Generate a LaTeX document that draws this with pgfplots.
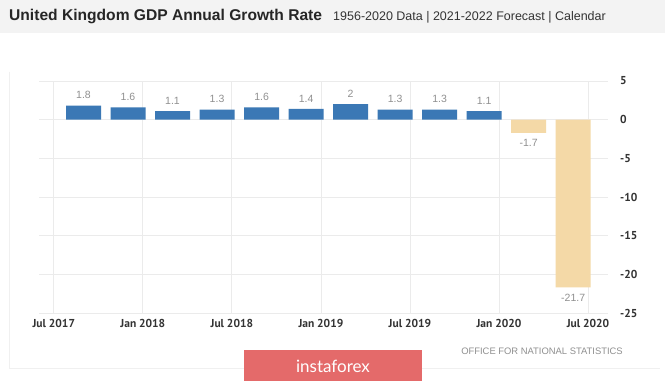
\documentclass[border=0pt]{standalone}
\usepackage{pgfplots}
\pgfplotsset{compat=1.18}
\usepackage{fontspec}
\setmainfont{Liberation Sans}
\newfontfamily\ptsans{PT Sans}
\newfontfamily\lato{Lato}
\definecolor{barblue}{HTML}{3B78B5}
\definecolor{bartan}{HTML}{F4D9A7}
\definecolor{gridc}{HTML}{EBEBEB}
\definecolor{cardc}{HTML}{F0F0F0}
\definecolor{hdr}{HTML}{F3F3F3}
\definecolor{lbl}{HTML}{909090}
\definecolor{tickc}{HTML}{333333}
\definecolor{insta}{HTML}{E46A6A}
\begin{document}
\begin{tikzpicture}[x=1pt,y=1pt]
\fill[white] (0,0) rectangle (665,381);
\fill[hdr] (0,348) rectangle (665,381);
\draw[cardc, line width=0.8pt] (9,309) -- (9,13) -- (660,13);
\node[anchor=base west, inner sep=0pt, font=\bfseries\fontsize{15.6}{18}\selectfont, text=black!85] at (9,360) {United Kingdom GDP Annual Growth Rate};
\node[anchor=base west, inner sep=0pt, font=\fontsize{12.5}{15}\selectfont, text=black!80] at (333,360) {1956-2020 Data | 2021-2022 Forecast | Calendar};
\begin{axis}[
  at={(39pt,68pt)}, anchor=south west, scale only axis,
  width=569pt, height=232pt,
  xmin=-1, xmax=37.35, ymin=-25, ymax=5,
  axis line style={draw=none},
  major tick length=0pt,
  xtick={0,6,12,18,24,30,36},
  xticklabels={Jul 2017,Jan 2018,Jul 2018,Jan 2019,Jul 2019,Jan 2020,Jul 2020},
  ytick={-25,-20,-15,-10,-5,0,5},
  yticklabels={-25,-20,-15,-10,-5,0,5},
  yticklabel pos=right,
  xmajorgrids, ymajorgrids,
  grid style={gridc, line width=0.8pt},
  x tick label style={font=\ptsans\bfseries\fontsize{11.5}{12}\selectfont, text=tickc, anchor=center, yshift=-10pt},
  y tick label style={font=\ptsans\bfseries\fontsize{11.5}{12}\selectfont, text=tickc, anchor=west, inner sep=0pt, xshift=12pt},
  nodes near coords align={vertical},
  every node near coord/.append style={font=\fontsize{10.5}{12}\selectfont, text=lbl, inner xsep=0pt, inner ysep=6.5pt},
]
\addplot[ybar, bar width=35pt, bar shift=0pt, fill=barblue, draw=none,
  nodes near coords={\pgfmathprintnumber[assume math mode=true]{\pgfplotspointmeta}}]
  coordinates {(2,1.8) (5,1.6) (8,1.1) (11,1.3) (14,1.6) (17,1.4) (20,2) (23,1.3) (26,1.3) (29,1.1)};
\addplot[ybar, bar width=35pt, bar shift=0pt, fill=bartan, draw=none,
  nodes near coords={\pgfmathprintnumber[assume math mode=true]{\pgfplotspointmeta}}]
  coordinates {(32,-1.7) (35,-21.7)};
\end{axis}
\node[anchor=center, font=\fontsize{9.4}{11}\selectfont, text=lbl] at (542,30) {OFFICE FOR NATIONAL STATISTICS};
\fill[insta] (244,0) rectangle (422,31);
\node[anchor=center, font=\lato\fontsize{17}{20}\selectfont, text=white] at (333,15) {instaforex};
\pgfresetboundingbox
\useasboundingbox (0,0) rectangle (665,381);
\end{tikzpicture}
\end{document}
